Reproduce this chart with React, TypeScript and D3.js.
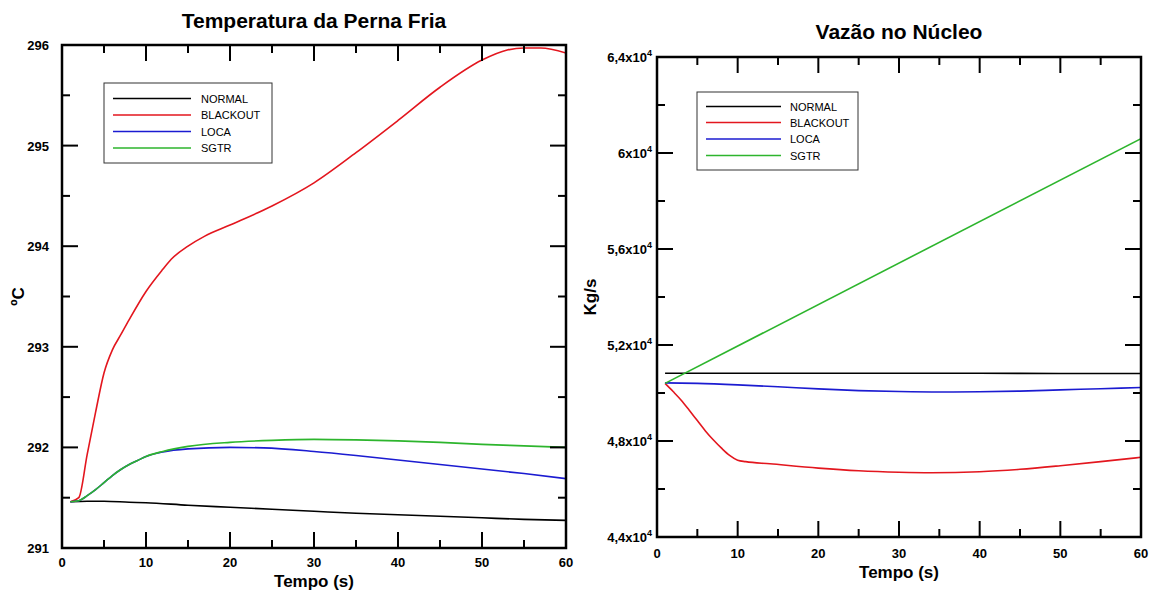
import React from "react";
import * as d3 from "d3";

// ---------- DATA ----------
const seriesNames = ["NORMAL", "BLACKOUT", "LOCA", "SGTR"];
const seriesColors = ["#000000", "#e3161e", "#1b1bd1", "#2db52d"];

// Left chart: Temperatura da Perna Fria (ºC)
const tempNormalT = [1, 3, 5, 8, 10, 15, 20, 25, 30, 35, 40, 45, 50, 55, 60];
const tempNormalV = [291.46, 291.465, 291.465, 291.455, 291.45, 291.425, 291.405, 291.385, 291.365, 291.345, 291.33, 291.315, 291.3, 291.285, 291.275];
const tempBlackoutT = [1, 2, 3, 4, 5, 6, 7, 8, 10, 12, 13, 15, 17, 20, 25, 30, 35, 40, 45, 50, 53, 55, 57, 60];
const tempBlackoutV = [291.46, 291.5, 291.93, 292.35, 292.74, 292.97, 293.12, 293.27, 293.55, 293.77, 293.87, 294.0, 294.1, 294.21, 294.4, 294.63, 294.93, 295.25, 295.58, 295.85, 295.95, 295.97, 295.97, 295.92];
const tempLocaT = [1, 2, 3, 4, 5, 6, 7, 8, 9, 10, 12, 15, 20, 24, 30, 35, 40, 45, 50, 55, 60];
const tempLocaV = [291.46, 291.47, 291.52, 291.58, 291.65, 291.72, 291.78, 291.83, 291.87, 291.91, 291.955, 291.985, 292.0, 291.995, 291.96, 291.92, 291.875, 291.83, 291.785, 291.74, 291.69];
const tempSgtrT = [1, 2, 3, 4, 5, 6, 7, 8, 9, 10, 12, 15, 20, 25, 30, 35, 40, 45, 50, 55, 60];
const tempSgtrV = [291.46, 291.47, 291.52, 291.58, 291.65, 291.72, 291.78, 291.83, 291.87, 291.91, 291.96, 292.01, 292.05, 292.07, 292.08, 292.075, 292.065, 292.05, 292.03, 292.015, 292.0];

// Right chart: Vazão no Núcleo (Kg/s)
const flowNormalT = [1, 10, 20, 30, 40, 50, 60];
const flowNormalV = [50820, 50820, 50820, 50825, 50820, 50815, 50810];
const flowBlackoutT = [1, 2, 3, 4, 5, 6, 7, 8, 9, 10, 11, 14, 20, 25, 30, 34, 40, 45, 50, 55, 60];
const flowBlackoutV = [50400, 50060, 49700, 49280, 48850, 48420, 48040, 47700, 47400, 47200, 47140, 47050, 46870, 46760, 46700, 46680, 46720, 46820, 46970, 47140, 47320];
const flowLocaT = [1, 5, 10, 15, 20, 25, 30, 35, 40, 45, 50, 55, 60];
const flowLocaV = [50420, 50400, 50340, 50260, 50170, 50100, 50060, 50040, 50050, 50080, 50130, 50180, 50230];
const flowSgtrT = [1, 60];
const flowSgtrV = [50400, 60600];

const xTicks = [0, 10, 20, 30, 40, 50, 60];
const xMinorTicks = [5, 15, 25, 35, 45, 55];
const tempTicks = [291, 292, 293, 294, 295, 296];
const tempMinorTicks = [291.5, 292.5, 293.5, 294.5, 295.5];
const flowTicks = [44000, 48000, 52000, 56000, 60000, 64000];
const flowMinorTicks = [46000, 50000, 54000, 58000, 62000];

type Series = { t: number[]; v: number[] };

const tempSeries: Series[] = [
  { t: tempNormalT, v: tempNormalV },
  { t: tempBlackoutT, v: tempBlackoutV },
  { t: tempLocaT, v: tempLocaV },
  { t: tempSgtrT, v: tempSgtrV },
];
const flowSeries: Series[] = [
  { t: flowNormalT, v: flowNormalV },
  { t: flowBlackoutT, v: flowBlackoutV },
  { t: flowLocaT, v: flowLocaV },
  { t: flowSgtrT, v: flowSgtrV },
];

const FONT = "'Liberation Sans', Arial, sans-serif";

function fmtFlow(v: number) {
  const m = v / 10000;
  const s = Number.isInteger(m) ? String(m) : m.toFixed(1).replace(".", ",");
  return s;
}

type ChartProps = {
  x0: number; x1: number; y0: number; y1: number;
  yDomain: [number, number];
  yTicks: number[]; yMinor: number[];
  series: Series[];
  title: string; titleY: number;
  yLabel: string; yLabelX: number;
  xLabelY: number; xTickY: number;
  legend: { x: number; y: number; w: number; h: number; lx0: number; lx1: number; tx: number; rows: number[] };
  flow?: boolean;
  yTickLabelX: number;
};

function Chart(p: ChartProps) {
  const x = d3.scaleLinear().domain([0, 60]).range([p.x0, p.x1]);
  const y = d3.scaleLinear().domain(p.yDomain).range([p.y1, p.y0]);
  const line = d3
    .line<[number, number]>()
    .x((d) => x(d[0]))
    .y((d) => y(d[1]))
    .curve(d3.curveMonotoneX);
  const MAJ = 16;
  const MIN = 8;
  const cx = (p.x0 + p.x1) / 2;
  return (
    <g>
      <defs>
        <clipPath id={"clip" + p.x0}>
          <rect x={p.x0} y={p.y0} width={p.x1 - p.x0} height={p.y1 - p.y0} />
        </clipPath>
      </defs>
      <text x={cx} y={p.titleY} textAnchor="middle" fontFamily={FONT} fontWeight="bold" fontSize={21}>
        {p.title}
      </text>
      <g clipPath={`url(#clip${p.x0})`}>
        {p.series.map((s, i) => (
          <path
            key={i}
            d={line(s.t.map((t, k) => [t, s.v[k]] as [number, number])) || ""}
            fill="none"
            stroke={seriesColors[i]}
            strokeWidth={1.6}
          />
        ))}
      </g>
      {xTicks.map((t) => (
        <g key={"xt" + t}>
          <line x1={x(t)} x2={x(t)} y1={p.y1} y2={p.y1 - MAJ} stroke="#000" strokeWidth={2} />
          <line x1={x(t)} x2={x(t)} y1={p.y0} y2={p.y0 + MAJ} stroke="#000" strokeWidth={2} />
          <text x={x(t)} y={p.xTickY} textAnchor="middle" fontFamily={FONT} fontWeight="bold" fontSize={13}>
            {t}
          </text>
        </g>
      ))}
      {xMinorTicks.map((t) => (
        <g key={"xm" + t}>
          <line x1={x(t)} x2={x(t)} y1={p.y1} y2={p.y1 - MIN} stroke="#000" strokeWidth={2} />
          <line x1={x(t)} x2={x(t)} y1={p.y0} y2={p.y0 + MIN} stroke="#000" strokeWidth={2} />
        </g>
      ))}
      {p.yTicks.map((v) => (
        <g key={"yt" + v}>
          <line x1={p.x0} x2={p.x0 + MAJ} y1={y(v)} y2={y(v)} stroke="#000" strokeWidth={2} />
          <line x1={p.x1} x2={p.x1 - MAJ} y1={y(v)} y2={y(v)} stroke="#000" strokeWidth={2} />
          {p.flow ? (
            <text x={p.yTickLabelX} y={y(v) + 5} textAnchor="end" fontFamily={FONT} fontWeight="bold" fontSize={13}>
              {fmtFlow(v)}x10
              <tspan fontSize={9} dy={-6}>4</tspan>
            </text>
          ) : (
            <text x={p.yTickLabelX} y={y(v) + 5} textAnchor="end" fontFamily={FONT} fontWeight="bold" fontSize={13}>
              {v}
            </text>
          )}
        </g>
      ))}
      {p.yMinor.map((v) => (
        <g key={"ym" + v}>
          <line x1={p.x0} x2={p.x0 + MIN} y1={y(v)} y2={y(v)} stroke="#000" strokeWidth={2} />
          <line x1={p.x1} x2={p.x1 - MIN} y1={y(v)} y2={y(v)} stroke="#000" strokeWidth={2} />
        </g>
      ))}
      <rect x={p.x0} y={p.y0} width={p.x1 - p.x0} height={p.y1 - p.y0} fill="none" stroke="#000" strokeWidth={2.5} />
      <text x={cx} y={p.xLabelY} textAnchor="middle" fontFamily={FONT} fontWeight="bold" fontSize={17}>
        Tempo (s)
      </text>
      <text
        transform={`translate(${p.yLabelX},${(p.y0 + p.y1) / 2}) rotate(-90)`}
        textAnchor="middle"
        fontFamily={FONT}
        fontWeight="bold"
        fontSize={17}
      >
        {p.yLabel}
      </text>
      <rect x={p.legend.x} y={p.legend.y} width={p.legend.w} height={p.legend.h} fill="#fff" stroke="#333" strokeWidth={1} />
      {seriesNames.map((n, i) => (
        <g key={n}>
          <line x1={p.legend.lx0} x2={p.legend.lx1} y1={p.legend.rows[i]} y2={p.legend.rows[i]} stroke={seriesColors[i]} strokeWidth={1.6} />
          <text x={p.legend.tx} y={p.legend.rows[i] + 4} fontFamily={FONT} fontSize={11}>
            {n}
          </text>
        </g>
      ))}
    </g>
  );
}

export default function App() {
  return (
    <svg width={1156} height={595} style={{ position: "absolute", left: 0, top: 0, background: "#fff" }}>
      <rect x={0} y={0} width={1156} height={595} fill="#fff" />
      <Chart
        x0={62} x1={566} y0={45} y1={548}
        yDomain={[291, 296]}
        yTicks={tempTicks} yMinor={tempMinorTicks}
        series={tempSeries}
        title="Temperatura da Perna Fria" titleY={28}
        yLabel="ºC" yLabelX={24}
        xLabelY={587} xTickY={567}
        yTickLabelX={49}
        legend={{ x: 104, y: 83, w: 168, h: 80, lx0: 113, lx1: 191, tx: 201, rows: [98.5, 115, 131.5, 148] }}
      />
      <Chart
        x0={657} x1={1141} y0={57} y1={537}
        yDomain={[44000, 64000]}
        yTicks={flowTicks} yMinor={flowMinorTicks}
        series={flowSeries}
        title="Vazão no Núcleo" titleY={39}
        yLabel="Kg/s" yLabelX={596}
        xLabelY={578} xTickY={558}
        yTickLabelX={652}
        flow
        legend={{ x: 697, y: 92, w: 161, h: 78, lx0: 706, lx1: 781, tx: 790, rows: [106.5, 122.5, 139, 155.5] }}
      />
    </svg>
  );
}
